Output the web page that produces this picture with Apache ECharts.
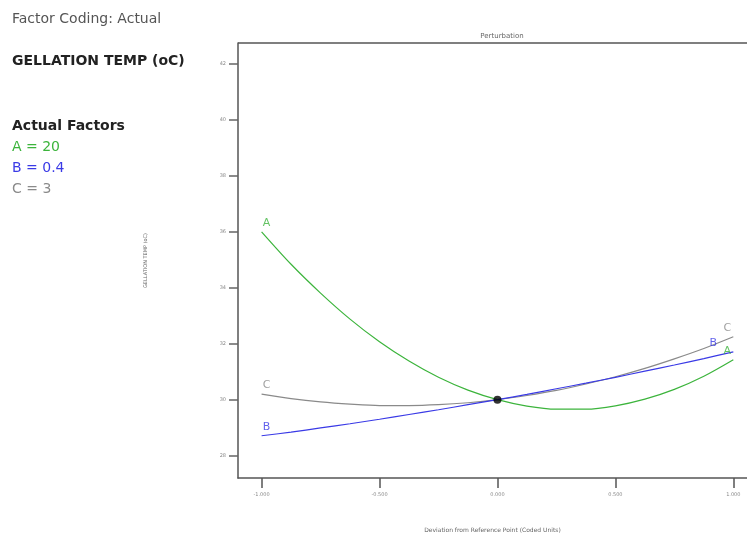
<!DOCTYPE html>
<html>
<head>
<meta charset="utf-8">
<script src="https://cdn.jsdelivr.net/npm/echarts@6/dist/echarts.min.js"></script>
<style>
  html, body { margin: 0; padding: 0; background: #fff; }
</style>
</head>
<body>
<div id="main" style="width: 747px; height: 534px;"></div>
<script>
// deviation from reference point (coded units)
const xs = [-1, -0.875, -0.75, -0.625, -0.5, -0.375, -0.25, -0.125, 0,
  0.125, 0.25, 0.375, 0.5, 0.625, 0.75, 0.875, 1]
// gellation temp
const seriesA = [36.0, 34.84, 33.81, 32.88, 32.07, 31.38, 30.80, 30.34, 30.0,
  29.77, 29.66, 29.66, 29.78, 30.02, 30.37, 30.84, 31.43]
const seriesB = [28.71, 28.84, 28.99, 29.14, 29.30, 29.47, 29.64, 29.82, 30.0,
  30.19, 30.39, 30.59, 30.80, 31.02, 31.24, 31.47, 31.71]
const seriesC = [30.2, 30.04, 29.92, 29.84, 29.79, 29.79, 29.82, 29.89, 30.0,
  30.15, 30.33, 30.56, 30.82, 31.12, 31.46, 31.83, 32.25]
const yTicks = [28, 30, 32, 34, 36, 38, 40, 42]
const xTicks = [-1, -0.5, 0, 0.5, 1]
const refPoint = [0, 30]

const green = '#3cb43c'
const blue = '#3a3ae6'
const grey = '#8a8a8a'
const font = '"DejaVu Sans"'

const chartDom = document.getElementById('main')
const myChart = echarts.init(chartDom)

function curve(name, vals, color) {
  return {
    name: name,
    type: 'line',
    smooth: 0.3,
    showSymbol: false,
    symbol: 'none',
    lineStyle: { color: color, width: 1.2 },
    data: vals.map((v, i) => [xs[i], v]),
    z: name === 'B' ? 4 : 3
  }
}

// letter tags at both ends of each curve
function tags(name, vals, color, endDx) {
  const last = vals.length - 1
  return {
    name: name + '-tags',
    type: 'scatter',
    symbolSize: 0,
    silent: true,
    label: {
      show: true,
      formatter: name,
      position: 'top',
      distance: 3,
      color: color,
      fontSize: 11,
      fontFamily: 'DejaVu Sans'
    },
    labelLayout: (params) => (params.dataIndex === 1 ? { dx: endDx, dy: 0 } : { dx: 5, dy: 0 }),
    data: [[xs[0], vals[0]], [xs[last], vals[last]]],
    z: 6
  }
}

const smallText = { color: '#888', fontSize: 5, fontFamily: 'DejaVu Sans' }

let option = {
  animation: false,
  title: {
    text: 'Perturbation',
    left: 497,
    top: 28,
    textAlign: 'center',
    textStyle: { color: '#666', fontSize: 7, fontWeight: 'normal', fontFamily: 'DejaVu Sans' }
  },
  grid: {
    left: 238,
    top: 43,
    right: 0,
    height: 435,
    outerBoundsMode: 'none'
  },
  xAxis: {
    type: 'value',
    min: -1.1,
    max: 1.058,
    name: 'Deviation from Reference Point (Coded Units)',
    nameLocation: 'middle',
    nameGap: 49,
    nameTextStyle: { color: '#666', fontSize: 6, fontFamily: 'DejaVu Sans' },
    axisLine: { show: true, onZero: false, lineStyle: { color: '#555', width: 1.5 } },
    axisTick: { show: true, length: 10, customValues: xTicks, lineStyle: { color: '#555', width: 1.5 } },
    axisLabel: Object.assign({ customValues: xTicks, margin: 14, formatter: (v) => v.toFixed(3) }, smallText),
    splitLine: { show: false }
  },
  yAxis: {
    type: 'value',
    min: 27.2,
    max: 42.75,
    name: 'GELLATION TEMP (oC)',
    nameLocation: 'middle',
    nameRotate: 90,
    nameGap: 90,
    nameTextStyle: { color: '#666', fontSize: 5, fontFamily: 'DejaVu Sans' },
    axisLine: { show: true, onZero: false, lineStyle: { color: '#555', width: 1.5 } },
    axisTick: { show: true, length: 9, customValues: yTicks, lineStyle: { color: '#666', width: 1.5 } },
    axisLabel: Object.assign({ customValues: yTicks, margin: 12 }, smallText),
    splitLine: { show: false }
  },
  graphic: [
    { type: 'line', shape: { x1: 238, y1: 43, x2: 747, y2: 43 }, style: { stroke: '#555', lineWidth: 1.5 } },
    { type: 'text', left: 12, top: 12, style: { text: 'Factor Coding: Actual', fill: '#555', font: '14px ' + font } },
    { type: 'text', left: 12, top: 54, style: { text: 'GELLATION TEMP (oC)', fill: '#222', font: 'bold 14px ' + font } },
    { type: 'text', left: 12, top: 119, style: { text: 'Actual Factors', fill: '#222', font: 'bold 14px ' + font } },
    { type: 'text', left: 12, top: 140, style: { text: 'A = 20', fill: green, font: '14px ' + font } },
    { type: 'text', left: 12, top: 161, style: { text: 'B = 0.4', fill: blue, font: '14px ' + font } },
    { type: 'text', left: 12, top: 182, style: { text: 'C = 3', fill: grey, font: '14px ' + font } }
  ],
  series: [
    curve('C', seriesC, grey),
    curve('A', seriesA, green),
    curve('B', seriesB, blue),
    tags('C', seriesC, grey, -6),
    tags('A', seriesA, green, -6),
    tags('B', seriesB, blue, -20),
    {
      name: 'ref',
      type: 'scatter',
      symbolSize: 8,
      itemStyle: { color: '#000' },
      data: [refPoint],
      z: 5
    }
  ]
}

option && myChart.setOption(option)
</script>
</body>
</html>
